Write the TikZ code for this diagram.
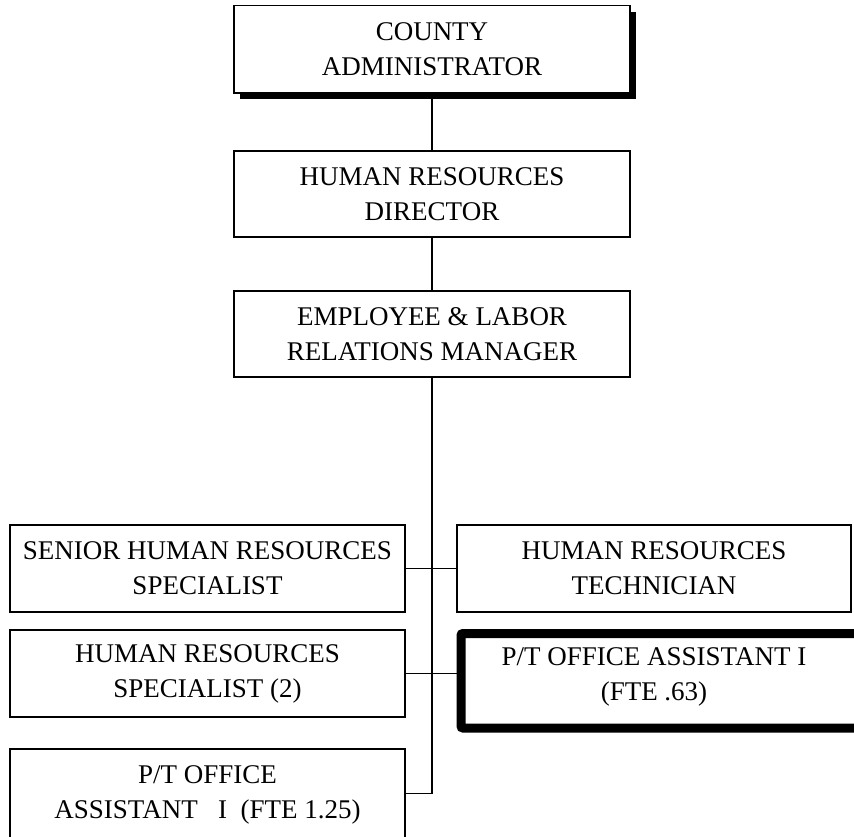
\documentclass[tikz,border=0pt]{standalone}
\usepackage{fontspec}
\setmainfont{Liberation Serif}
\begin{document}
\begin{tikzpicture}[x=1pt,y=-1pt,
  box/.style={draw, line width=1.8pt, fill=white, inner sep=0pt, align=center,
    font=\fontsize{27}{35}\selectfont},
  label text/.style={inner sep=0pt, align=center,
    font=\fontsize{27}{35}\selectfont},
  heavybox/.style={draw, line width=9pt, rounded corners=2pt, inner sep=0pt},
  link/.style={line width=1.6pt}]
\useasboundingbox (0,0) rectangle (854,836);

% drop shadow behind the top box
\fill[black] (240,12) rectangle (635.5,99);

\node[box, minimum width=396pt, minimum height=87.5pt] (ca) at (432,49.25)
  {COUNTY\\ADMINISTRATOR};
\node[box, minimum width=395.5pt, minimum height=86.6pt] (hrd) at (432,194)
  {HUMAN RESOURCES\\DIRECTOR};
\node[box, minimum width=395.5pt, minimum height=86.6pt] (elr) at (432,334)
  {EMPLOYEE \& LABOR\\RELATIONS MANAGER};

\node[box, minimum width=395pt, minimum height=86.7pt] (shr) at (207.5,568.35)
  {SENIOR HUMAN RESOURCES\\SPECIALIST};
\node[box, minimum width=394pt, minimum height=86.7pt] (hrt) at (654,568.35)
  {HUMAN RESOURCES\\TECHNICIAN};
\node[box, minimum width=395pt, minimum height=87pt] (hrs) at (207.5,673.5)
  {HUMAN RESOURCES\\SPECIALIST (2)};
\node[box, minimum width=395pt, minimum height=90.7pt] (pta) at (207.5,794.6)
  {P/T OFFICE\\ASSISTANT\ \ \ I\ \ (FTE 1.25)};

% heavy-framed part-time position
\node[heavybox, minimum width=409pt, minimum height=94.5pt] (pto) at (665.5,680.75) {};
\node[label text] (ptotext) at (654,676.5) {P/T OFFICE ASSISTANT I\\(FTE .63)};

% reporting lines
\draw[link] (ca) -- (hrd);
\draw[link] (hrd) -- (elr);
\coordinate (tend) at (432,793.3);
\draw[link] (elr.south) -- (tend) -- (tend -| pta.east);
\draw[link] (shr.east) -- (hrt.west);
\draw[link] (hrs.east) -- (hrs.east -| pto.west);
\end{tikzpicture}
\end{document}
